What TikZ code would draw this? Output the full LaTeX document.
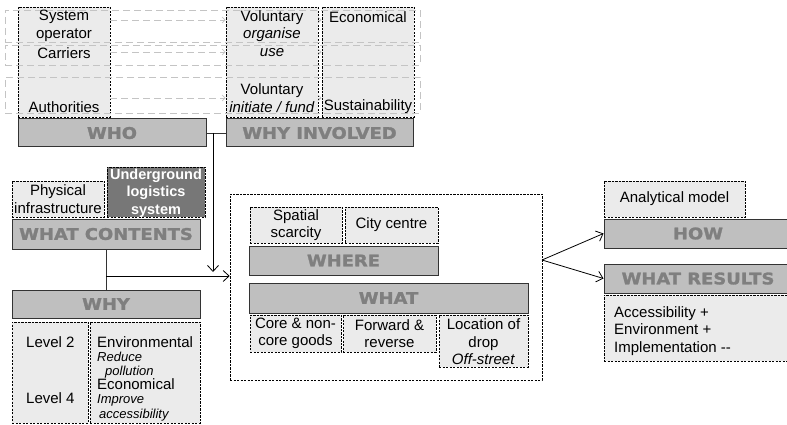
\documentclass[tikz,border=0pt]{standalone}
\usepackage{fontspec}
\setmainfont{Liberation Sans}
\newfontfamily\hdrfont{DejaVu Sans}[FakeStretch=1.12,FakeBold=1.6]
\usetikzlibrary{arrows.meta,fit}
\definecolor{boxfill}{HTML}{EBEBEB}
\definecolor{hdrfill}{HTML}{BFBFBF}
\definecolor{hdrtext}{HTML}{7F7F7F}
\definecolor{darkfill}{HTML}{777777}
\definecolor{rowline}{HTML}{C4C4C4}
\newcommand\smit[1]{{\fontsize{13}{14}\selectfont\itshape #1}}
\tikzset{
  dbox/.style={draw=black, fill=boxfill, dash pattern=on 2.2pt off 1.3pt, line width=0.6pt, inner sep=0pt},
  obox/.style={draw=black, dash pattern=on 2.2pt off 1.3pt, line width=0.6pt, inner sep=0pt},
  hdr/.style={draw=black!80, fill=hdrfill, line width=1pt, inner sep=0pt},
  hdrtxt/.style={inner sep=0pt, anchor=center, text=hdrtext, text height=11.7pt, text depth=0pt,
    font=\hdrfont\bfseries\fontsize{16}{18}\selectfont},
  rowbox/.style={draw=rowline, dash pattern=on 7pt off 4pt, line width=0.7pt, inner sep=0pt},
  txt/.style={inner sep=0pt, align=center, font=\fontsize{15}{17.5}\selectfont},
  ltxt/.style={inner sep=0pt, anchor=base west, font=\fontsize{15}{17.5}\selectfont},
  stxt/.style={inner sep=0pt, anchor=base west},
  conn/.style={draw=black!80, line width=0.8pt},
  arr/.style={draw=black, line width=0.8pt, -{Straight Barb[length=6pt,width=11pt]}},
  grayarr/.style={draw=rowline, line width=0.7pt, dash pattern=on 7pt off 4pt, -{Straight Barb[length=3pt,width=6pt]}},
}
\begin{document}
\begin{tikzpicture}[x=1pt,y=-1pt]
\clip (0,0) rectangle (787,425);
% ---------- top: who / why involved ----------
\node[dbox, fit={(18,7) (110,117)}] (whocol) {};
\node[dbox, fit={(226,7) (318,117)}] (volcol) {};
\node[dbox, fit={(322,7) (414,117)}] (econcol) {};
\node[rowbox, fit={(5,10) (420,42)}] (row1) {};
\node[rowbox, fit={(5,45) (420,65)}] (row2) {};
\node[rowbox, fit={(5,77) (420,113)}] (row3) {};
\node[txt] (sysop) at (64,26) {System\\operator};
\node[txt] (carr) at (64,53) {Carriers};
\node[txt] (auth) at (64,107) {Authorities};
\node[txt] (vol1) at (272,26) {Voluntary\\\textit{organise}};
\node[txt] (use) at (272,53) {\textit{use}};
\node[txt] (vol2) at (272,98) {Voluntary\\\textit{initiate / fund}};
\node[txt] (econ1) at (368,17) {Economical};
\node[txt] (sust) at (368,107) {Sustainability};
\draw[grayarr] (whocol.east |- 0,20) -- (volcol.west |- 0,20);
\draw[grayarr] (whocol.east |- 0,52) -- (volcol.west |- 0,52);
\draw[grayarr] (whocol.east |- 0,98) -- (volcol.west |- 0,98);
\draw[grayarr] (volcol.east |- 0,20) -- (econcol.west |- 0,20);
\draw[grayarr] (volcol.east |- 0,52) -- (econcol.west |- 0,52);
\draw[grayarr] (volcol.east |- 0,98) -- (econcol.west |- 0,98);
\node[hdr, fit={(18,119) (206,147)}] (who) {};
\node[hdrtxt] (whot) at (who.center) {WHO};
\node[hdr, fit={(226,119) (413,147)}] (whyinv) {};
\node[hdrtxt] (whyinvt) at (whyinv.center) {WHY INVOLVED};
% ---------- left: what contents / why ----------
\node[dbox, fit={(12,181) (104,217)}] (phys) {};
\node[txt] (physt) at (phys.center) {Physical\\infrastructure};
\node[draw=black, fill=darkfill, dash pattern=on 2.2pt off 1.3pt, line width=0.6pt, inner sep=0pt, fit={(107,167) (205,217)}] (ulsbox) {};
\node[txt, text=white, font=\bfseries\fontsize{14.5}{17.5}\selectfont] (ulst) at (156,193) {Underground\\logistics\\system};
\node[hdr, fit={(12,219) (200,249)}] (wcont) {};
\node[hdrtxt] (wcontt) at (wcont.center) {WHAT CONTENTS};
\node[hdr, fit={(12,290) (200,318)}] (why) {};
\node[hdrtxt] (whyt) at (why.center) {WHY};
\node[dbox, fit={(12,322) (88,423)}] (lvl) {};
\node[dbox, fit={(90,322) (200,423)}] (envbox) {};
\node[ltxt] (l2) at (26,347) {Level 2};
\node[ltxt] (l4) at (26,403) {Level 4};
\node[ltxt] (env) at (97,347) {Environmental};
\node[stxt] (red) at (97,361) {\smit{Reduce}};
\node[stxt] (pol) at (105,375) {\smit{pollution}};
\node[ltxt] (eco2) at (97,389) {Economical};
\node[stxt] (imp) at (97,403) {\smit{Improve}};
\node[stxt] (acc) at (99,418) {\smit{accessibility}};
% ---------- centre: where / what ----------
\node[obox, fit={(230,194) (542,380)}] (cont) {};
\node[dbox, fit={(250,207) (342,243)}] (spat) {};
\node[txt] (spatt) at (spat.center) {Spatial\\scarcity};
\node[dbox, fit={(345,207) (438,243)}] (city) {};
\node[txt] (cityt) at (city.center) {City centre};
\node[hdr, fit={(249,246) (438,275)}] (where) {};
\node[hdrtxt] (wheret) at (where.center) {WHERE};
\node[hdr, fit={(249,283) (528,313)}] (what) {};
\node[hdrtxt] (whatt) at (what.center) {WHAT};
\node[dbox, fit={(250,315) (341,352)}] (core) {};
\node[txt] (coret) at (core.center) {Core \& non-\\core goods};
\node[dbox, fit={(343,315) (436,352)}] (fwd) {};
\node[txt] (fwdt) at (fwd.center) {Forward \&\\reverse};
\node[dbox, fit={(439,315) (528,367)}] (loc) {};
\node[txt] (loct) at (483.5,342) {Location of\\drop\\\textit{Off-street}};
% ---------- right: how / what results ----------
\node[dbox, fit={(604,181) (745,217)}] (anal) {};
\node[txt] (analt) at (anal.center) {Analytical model};
\node[hdr, fit={(604,219) (792,248)}] (how) {};
\node[hdrtxt] (howt) at (how.center) {HOW};
\node[hdr, fit={(604,264) (792,293)}] (wres) {};
\node[hdrtxt] (wrest) at (wres.center) {WHAT RESULTS};
\node[dbox, fit={(604,295) (792,361)}] (resbox) {};
\node[ltxt] (r1) at (614,317) {Accessibility +};
\node[ltxt] (r2) at (614,334.5) {Environment +};
\node[ltxt] (r3) at (614,352) {Implementation -{}-};
% ---------- connectors ----------
\coordinate (j1) at (213,133);
\coordinate (vtip) at (213,272);
\coordinate (j2) at (106,276);
\coordinate (j3) at (542,260);
\draw[conn] (who.east) -- (whyinv.west);
\draw[arr] (j1) -- (vtip);
\draw[conn] (wcont.south) -- (why.north);
\draw[arr] (j2) -- (cont.west |- j2);
\draw[arr] (j3) -- (how.west);
\draw[arr] (j3) -- (wres.west);
\end{tikzpicture}
\end{document}
